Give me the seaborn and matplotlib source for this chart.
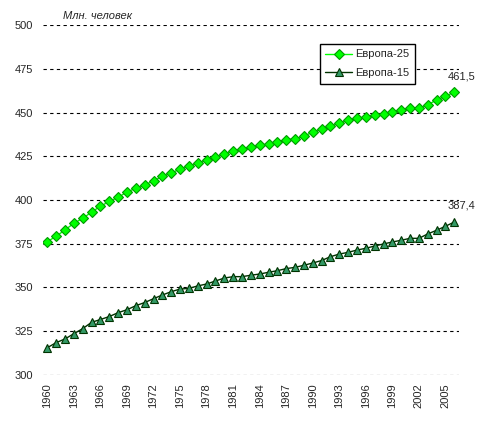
import numpy as np
import pandas as pd
import seaborn as sns
import matplotlib.pyplot as plt

# ======== данные =========
years = list(range(1960, 2007))
eu25 = [376.2, 379.3, 382.9, 386.7, 389.5, 393.1, 396.4, 399.2, 401.5, 404.6,
        406.7, 408.6, 410.9, 413.5, 415.4, 417.7, 419.4, 421.1, 423.0, 424.6,
        426.3, 428.0, 429.1, 430.2, 431.3, 432.0, 433.3, 434.5, 435.0, 436.4,
        438.9, 440.4, 442.1, 444.0, 445.5, 446.7, 447.4, 448.4, 449.3, 450.3,
        451.4, 452.4, 452.4, 454.5, 457.1, 459.4, 461.5]
eu15 = [315.6, 318.5, 320.6, 323.6, 326.5, 330.1, 331.7, 333.4, 335.6, 337.3,
        339.6, 341.4, 343.6, 345.7, 347.6, 349.1, 349.5, 350.9, 352.0, 353.7,
        355.4, 356.2, 356.2, 357.0, 357.7, 358.7, 359.6, 360.8, 361.5, 362.7,
        364.0, 365.4, 367.6, 369.1, 370.1, 371.4, 372.4, 373.7, 374.9, 376.0,
        377.0, 378.1, 378.1, 380.6, 382.7, 385.0, 387.4]
names = ['Европа-25', 'Европа-15']
yticks = list(range(300, 501, 25))
xticks = list(range(1960, 2006, 3))

df = pd.DataFrame({'Год': years, names[0]: eu25, names[1]: eu15})

# ======== стиль =========
sns.set_style("white")
plt.rcParams['font.family'] = ['Liberation Sans', 'DejaVu Sans']

fig = plt.figure(figsize=(4.85, 4.29), dpi=100)
ax = fig.add_axes([0.0885, 0.1259, 0.8573, 0.8158])

sns.lineplot(data=df, x='Год', y=names[0], ax=ax, color='#00ff00', lw=1,
             marker='D', markersize=4.8, markerfacecolor='#00ff00',
             markeredgecolor='#009900', markeredgewidth=0.8, label=names[0])
sns.lineplot(data=df, x='Год', y=names[1], ax=ax, color='#003300', lw=1,
             marker='^', markersize=6, markerfacecolor='#339966',
             markeredgecolor='#003300', markeredgewidth=0.8, label=names[1])

# подписи последних значений
for vals in (eu25, eu15):
    ax.annotate(f"{vals[-1]:.1f}".replace('.', ','), (years[-1], vals[-1]),
                xytext=(5, 8), textcoords='offset points', ha='center',
                va='bottom', fontsize=8)

ax.set_xlim(1959.5, 2006.5)
ax.set_ylim(300, 500)
ax.set_yticks(yticks)
ax.set_xticks(xticks)
ax.set_xticklabels([str(y) for y in xticks], rotation=90)
ax.tick_params(axis='both', length=0, labelsize=8)
ax.tick_params(axis='y', pad=7)
ax.tick_params(axis='x', pad=6)
ax.set_xlabel('')
ax.set_ylabel('')
for s in ax.spines.values():
    s.set_visible(False)
for y in yticks:
    ax.axhline(y, color='black', lw=0.8, ls=(0, (3, 3)), zorder=0)

fig.text(0.13, 0.963, 'Млн. человек', fontsize=8, style='italic',
         va='center', ha='left')

leg = ax.legend(loc='upper left', bbox_to_anchor=(0.666, 0.946),
                frameon=True, fancybox=False, fontsize=8, handlelength=2.4,
                borderpad=0.5, labelspacing=0.8, handletextpad=0.3,
                borderaxespad=0)
leg.get_frame().set_edgecolor('black')
leg.get_frame().set_linewidth(1)
leg.get_frame().set_alpha(1)

fig.savefig('out.png', dpi=100)
